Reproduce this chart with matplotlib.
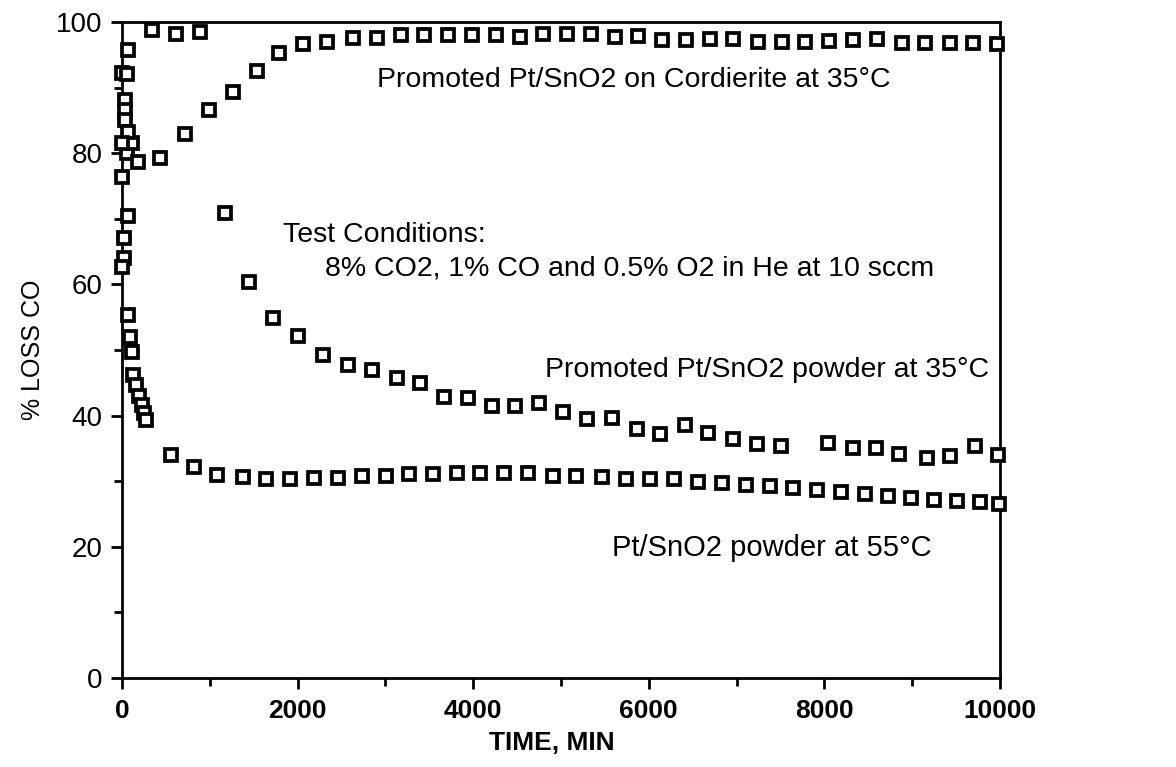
import matplotlib
matplotlib.use("Agg")
import matplotlib.pyplot as plt
from matplotlib.ticker import MultipleLocator
import numpy as np

plt.rcParams['font.family'] = ['Liberation Sans', 'DejaVu Sans']

# Promoted Pt/SnO2 on Cordierite at 35C
cord_time = [0, 60, 115, 180, 433, 717, 990, 1264, 1538, 1788, 2062, 2335, 2631,
             2904, 3178, 3440, 3713, 3986, 4260, 4533, 4795, 5068, 5342, 5615,
             5877, 6150, 6424, 6697, 6959, 7244, 7517, 7779, 8052, 8326, 8599,
             8884, 9146, 9431, 9692, 9966]
cord_loss = [76.4, 80.0, 81.5, 78.6, 79.3, 83.0, 86.6, 89.3, 92.5, 95.3, 96.7,
             97.0, 97.6, 97.6, 98.0, 98.0, 98.0, 98.0, 98.0, 97.7, 98.2, 98.2,
             98.2, 97.7, 97.9, 97.3, 97.3, 97.4, 97.4, 97.0, 97.0, 97.0, 97.1,
             97.3, 97.4, 96.8, 96.8, 96.8, 96.8, 96.6]

# Promoted Pt/SnO2 powder at 35C
p35_time = [0, 70, 55, 35, 35, 35, 70, 0, 342, 615, 888, 1173, 1446, 1720, 2005,
            2290, 2574, 2847, 3132, 3394, 3667, 3941, 4214, 4476, 4749, 5023,
            5296, 5581, 5865, 6128, 6412, 6674, 6959, 7232, 7506, 8041, 8326,
            8588, 8850, 9169, 9431, 9715, 9977]
p35_loss = [92.2, 95.7, 92.0, 88.1, 86.6, 85.0, 83.2, 81.5, 98.8, 98.1, 98.5,
            70.9, 60.4, 54.9, 52.1, 49.2, 47.7, 47.0, 45.7, 45.0, 42.8, 42.7,
            41.5, 41.5, 41.9, 40.6, 39.5, 39.6, 38.0, 37.2, 38.5, 37.3, 36.5,
            35.7, 35.3, 35.8, 35.1, 35.1, 34.1, 33.6, 33.8, 35.3, 34.0]

# Pt/SnO2 powder at 55C
p55_time = [70, 20, 20, 0, 70, 90, 110, 125, 160, 190, 228, 250, 275, 558, 820,
            1082, 1378, 1640, 1913, 2187, 2460, 2733, 3007, 3269, 3542, 3815,
            4077, 4351, 4624, 4909, 5171, 5467, 5740, 6014, 6287, 6560, 6834,
            7107, 7380, 7642, 7916, 8189, 8462, 8724, 8986, 9248, 9510, 9772,
            9990]
p55_loss = [70.4, 67.0, 64.0, 62.7, 55.3, 52.0, 49.7, 46.2, 44.6, 43.0, 41.6,
            40.4, 39.3, 34.0, 32.2, 30.9, 30.6, 30.3, 30.3, 30.5, 30.5, 30.8,
            30.8, 31.1, 31.1, 31.2, 31.2, 31.2, 31.2, 30.8, 30.8, 30.6, 30.3,
            30.3, 30.3, 29.9, 29.8, 29.4, 29.3, 29.0, 28.6, 28.4, 28.1, 27.8,
            27.5, 27.2, 27.0, 26.8, 26.5]

narrow = ['Liberation Sans Narrow', 'Liberation Sans']

fig = plt.figure(figsize=(11.76, 7.67), dpi=100)
ax = fig.add_axes([0.1037, 0.116, 0.7466, 0.8553])

for t, v in [(cord_time, cord_loss), (p35_time, p35_loss), (p55_time, p55_loss)]:
    ax.plot(t, v, linestyle='none', marker='s', markersize=8.3,
            markerfacecolor='white', markeredgecolor='black',
            markeredgewidth=2.7, clip_on=False, zorder=3)

ax.set_xlim(0, 10000)
ax.set_ylim(0, 100)
ax.xaxis.set_major_locator(MultipleLocator(2000))
ax.xaxis.set_minor_locator(MultipleLocator(1000))
ax.yaxis.set_major_locator(MultipleLocator(20))
ax.yaxis.set_minor_locator(MultipleLocator(10))

for sp in ax.spines.values():
    sp.set_linewidth(2.0)
ax.tick_params(which='both', direction='out', width=2.0, color='black')
ax.tick_params(which='major', length=8)
ax.tick_params(which='minor', length=6)
ax.tick_params(axis='y', labelsize=20, pad=6)
ax.tick_params(axis='x', labelsize=19, pad=7)
for lab in ax.get_xticklabels():
    lab.set_family(narrow)
    lab.set_fontweight('bold')

ax.set_xlabel('TIME, MIN', fontsize=19, family=narrow, fontweight='bold')
ax.xaxis.set_label_coords(0.49, -0.08)
ax.set_ylabel('% LOSS CO', fontsize=18, family=narrow)
ax.yaxis.set_label_coords(-0.088, 0.5)

ax.text(2904, 91.2, 'Promoted Pt/SnO2 on Cordierite at 35\u00b0C', fontsize=20.5,
        ha='left', va='center')
ax.text(1834, 67.5, 'Test Conditions:', fontsize=20.5, ha='left', va='center')
ax.text(2312, 62.5, '8% CO2, 1% CO and 0.5% O2 in He at 10 sccm', fontsize=20.5,
        ha='left', va='center')
ax.text(4818, 47.0, 'Promoted Pt/SnO2 powder at 35\u00b0C', fontsize=20.5,
        ha='left', va='center')
ax.text(5581, 19.8, 'Pt/SnO2 powder at 55\u00b0C', fontsize=21,
        ha='left', va='center')

fig.savefig('out.png', dpi=100)
